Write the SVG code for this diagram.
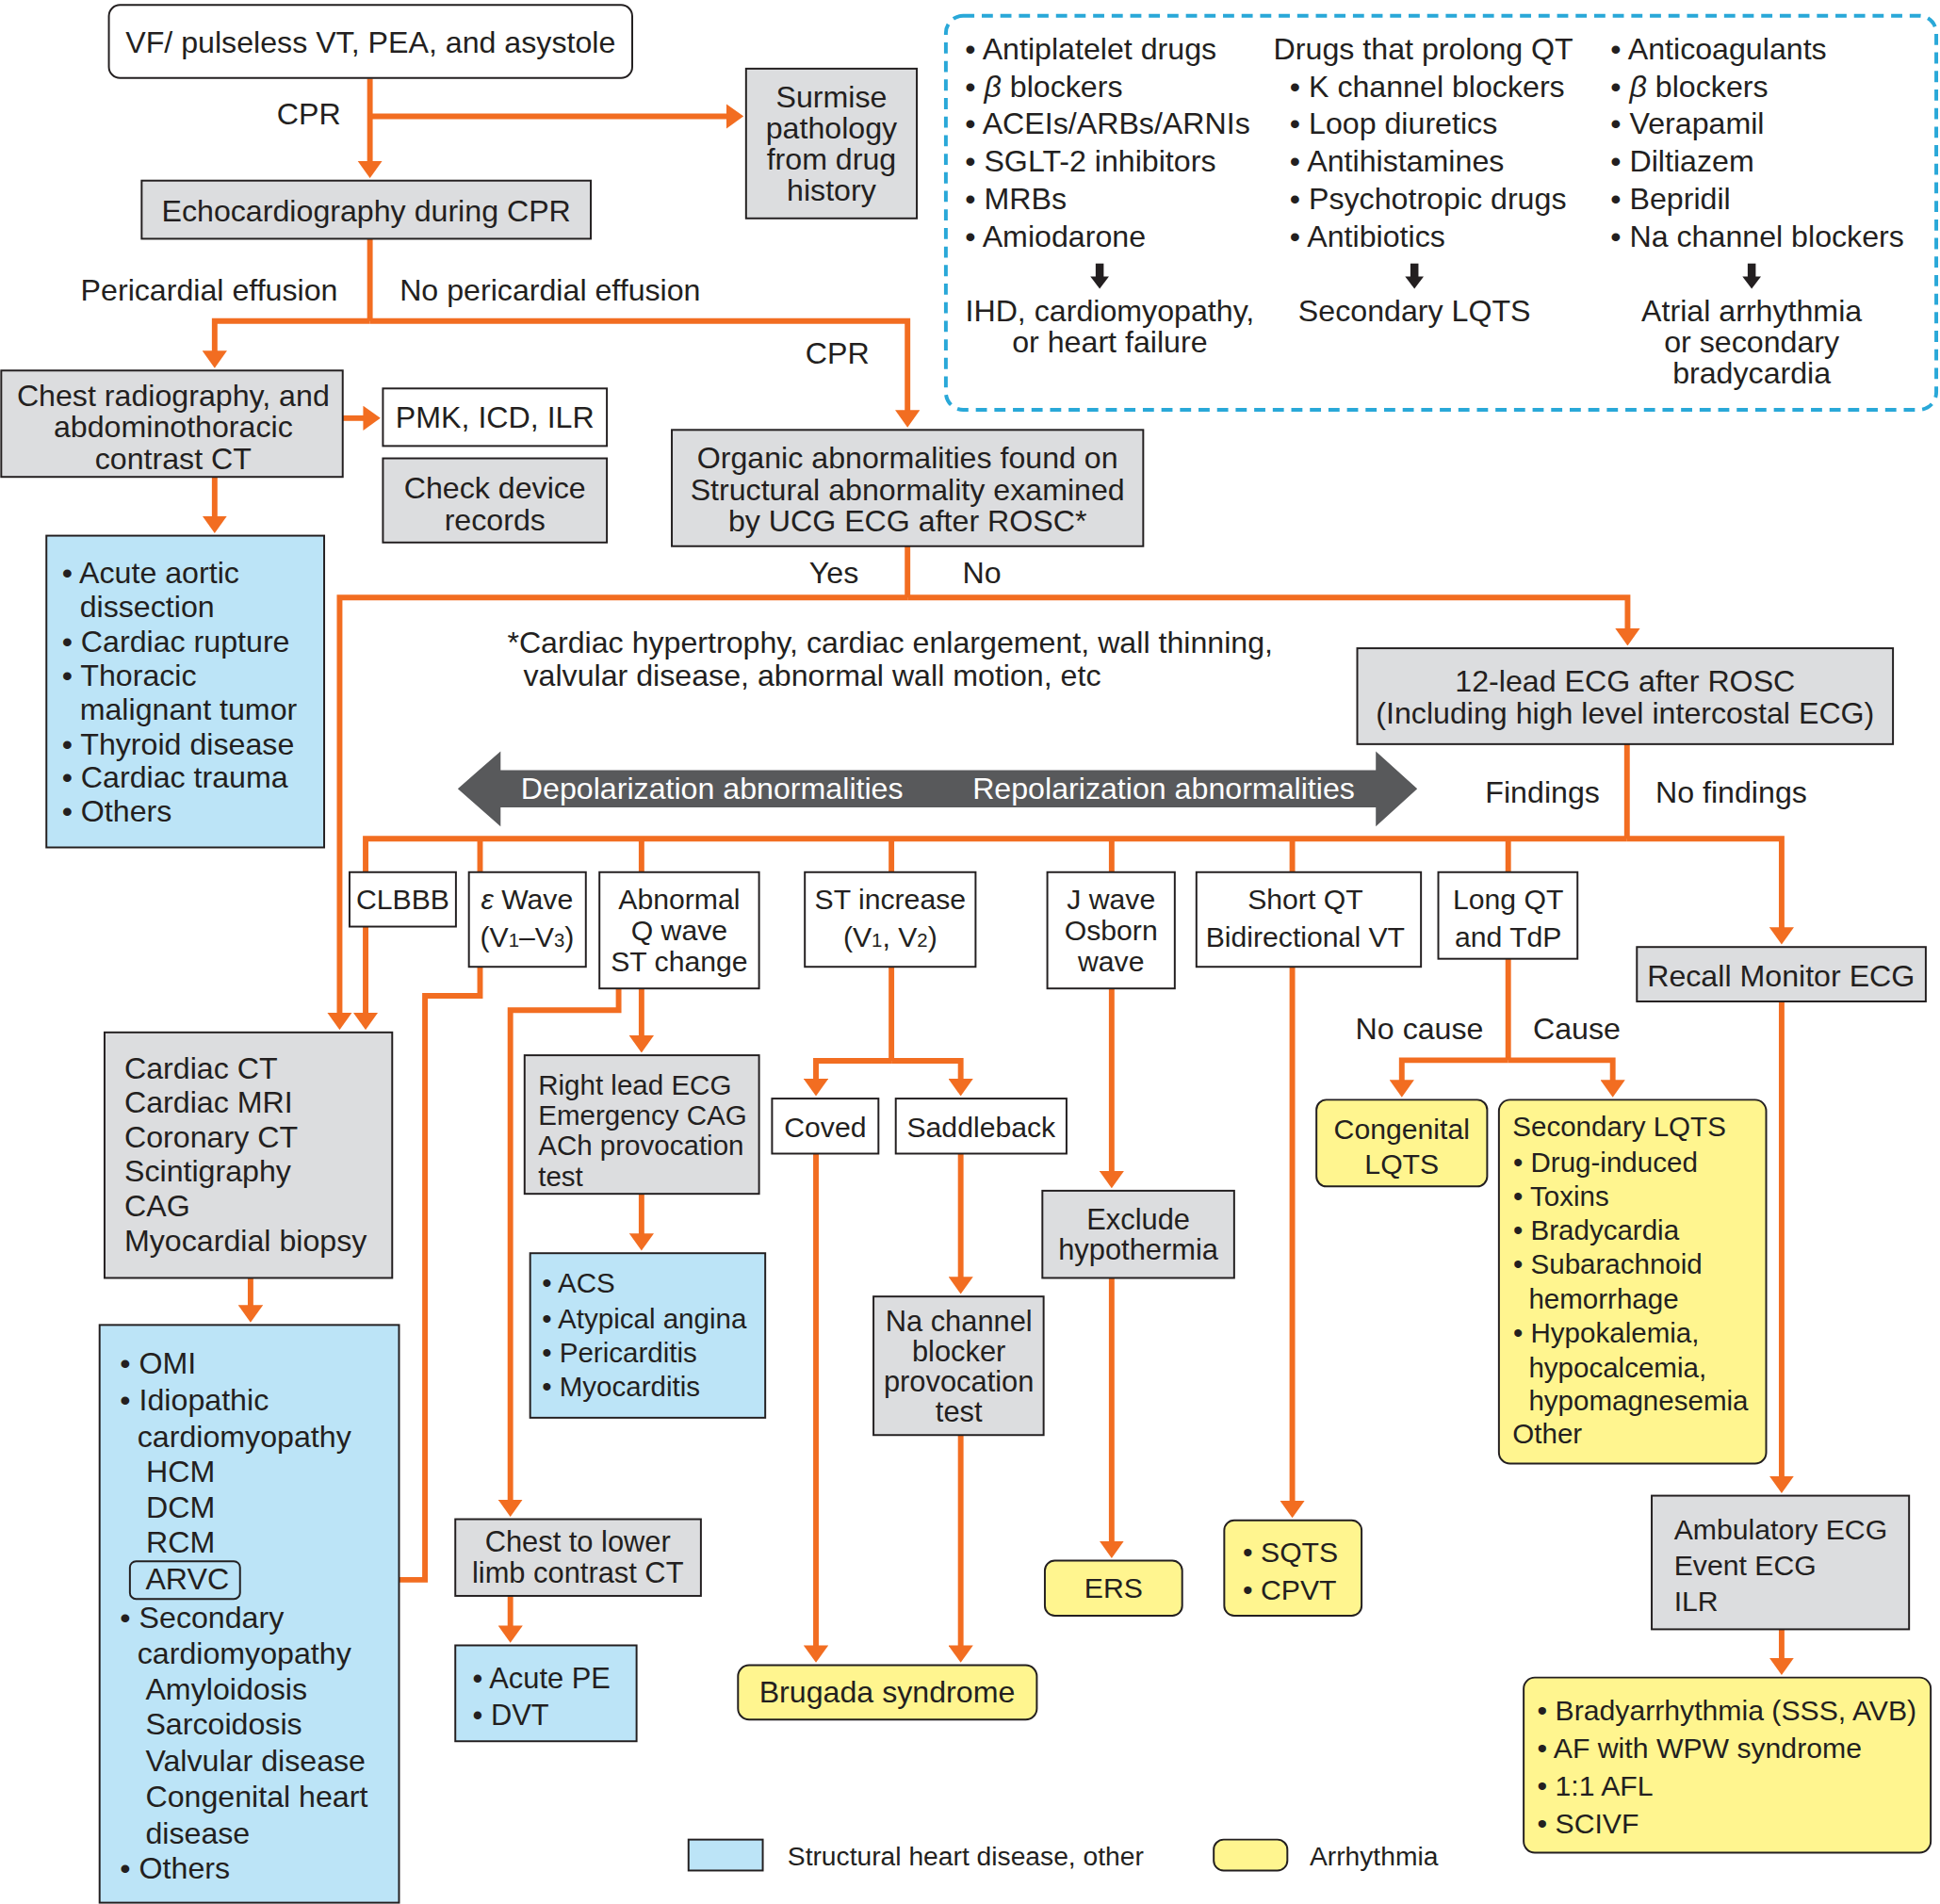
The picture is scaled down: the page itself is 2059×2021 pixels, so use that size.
<svg xmlns="http://www.w3.org/2000/svg" width="2059" height="2021" viewBox="0 0 2059 2021">
<style>
text{font-family:"Liberation Sans",Arial,Helvetica,sans-serif;font-size:24.5px;fill:#231f20}
.m{text-anchor:middle}
.wt{fill:#ffffff}
.f24{font-size:24.5px}
.f235{font-size:23.5px}
.f23{font-size:23px}
.f225{font-size:22.5px}
.f215{font-size:21.5px}
.sub{font-size:15.5px}
.it{font-style:italic}
.bx{stroke:#231f20;stroke-width:1.5}
.gy{fill:#dcdddf}
.bl{fill:#bce4f7}
.yl{fill:#fff58f}
.wh{fill:#ffffff}
.cn{fill:none;stroke:#f26d21;stroke-width:4.5;stroke-linejoin:miter;stroke-linecap:butt}
.ck{fill:none;stroke:#231f20;stroke-width:6.5}
</style>
<defs>
<marker id="ah" viewBox="0 0 14 20" markerWidth="14" markerHeight="20" refX="4" refY="10" orient="auto" markerUnits="userSpaceOnUse"><path d="M0,0 L14,10 L0,20 z" fill="#f26d21"/></marker>
<marker id="ak" viewBox="0 0 10 15" markerWidth="10" markerHeight="15" refX="1" refY="7.5" orient="auto" markerUnits="userSpaceOnUse"><path d="M0,0 L10,7.5 L0,15 z" fill="#231f20"/></marker>
</defs>
<rect x="0" y="0" width="2059" height="2021" fill="#ffffff"/>
<g transform="scale(1.31314)">

<g id="connectors">
<path class="cn" d="M299,63.5 V134" marker-end="url(#ah)"/>
<path class="cn" d="M299,94 H591" marker-end="url(#ah)"/>
<path class="cn" d="M299,193 V259.5"/>
<path class="cn" d="M299,259.5 H173.5 V287.5" marker-end="url(#ah)"/>
<path class="cn" d="M299,259.5 H733.5 V335.5" marker-end="url(#ah)"/>
<path class="cn" d="M277,338 H297.5" marker-end="url(#ah)"/>
<path class="cn" d="M173.5,385.5 V421" marker-end="url(#ah)"/>
<path class="cn" d="M733.5,441.5 V483"/>
<path class="cn" d="M733.5,483 H274.5 V822.5" marker-end="url(#ah)"/>
<path class="cn" d="M733.5,483 H1315.5 V512" marker-end="url(#ah)"/>
<path class="cn" d="M1315,601.5 V678"/>
<path class="cn" d="M1315,678 H295.5 V705"/>
<path class="cn" d="M388,678 V705"/>
<path class="cn" d="M518.5,678 V705"/>
<path class="cn" d="M720.5,678 V705"/>
<path class="cn" d="M898.5,678 V705"/>
<path class="cn" d="M1044.5,678 V705"/>
<path class="cn" d="M1219,678 V705"/>
<path class="cn" d="M1315,678 H1440 V753.5" marker-end="url(#ah)"/>
<path class="cn" d="M295.5,749 V822.5" marker-end="url(#ah)"/>
<path class="cn" d="M388,781.5 V805 H343.5 V1277 H206" marker-end="url(#ah)"/>
<path class="cn" d="M500,799 V816.5 H412.5 V1216" marker-end="url(#ah)"/>
<path class="cn" d="M518.5,799 V841" marker-end="url(#ah)"/>
<path class="cn" d="M518.5,965 V1001" marker-end="url(#ah)"/>
<path class="cn" d="M720.5,781.5 V857.5"/>
<path class="cn" d="M720.5,857.5 H659.5 V876" marker-end="url(#ah)"/>
<path class="cn" d="M720.5,857.5 H776.5 V876" marker-end="url(#ah)"/>
<path class="cn" d="M659.5,932.5 V1334" marker-end="url(#ah)"/>
<path class="cn" d="M776.5,932.5 V1036" marker-end="url(#ah)"/>
<path class="cn" d="M776.5,1160 V1334" marker-end="url(#ah)"/>
<path class="cn" d="M898.5,799 V950.5" marker-end="url(#ah)"/>
<path class="cn" d="M898.5,1033 V1249.5" marker-end="url(#ah)"/>
<path class="cn" d="M1044.5,781.5 V1217" marker-end="url(#ah)"/>
<path class="cn" d="M1219,775 V857"/>
<path class="cn" d="M1219,857 H1133 V877" marker-end="url(#ah)"/>
<path class="cn" d="M1219,857 H1303.5 V877" marker-end="url(#ah)"/>
<path class="cn" d="M1440,809.5 V1197" marker-end="url(#ah)"/>
<path class="cn" d="M1440,1317 V1344" marker-end="url(#ah)"/>
<path class="cn" d="M202.5,1033 V1059" marker-end="url(#ah)"/>
<path class="cn" d="M412.5,1289.5 V1318" marker-end="url(#ah)"/>
<path class="ck" d="M888.8,213 V224.5" marker-end="url(#ak)"/>
<path class="ck" d="M1143.2,213 V224.5" marker-end="url(#ak)"/>
<path class="ck" d="M1415.8,213 V224.5" marker-end="url(#ak)"/>
</g>

<g id="labels">
<text x="275.5" y="100.5" text-anchor="end">CPR</text>
<text x="273" y="243" text-anchor="end">Pericardial effusion</text>
<text x="323" y="243">No pericardial effusion</text>
<text x="651" y="294">CPR</text>
<text x="654" y="471.5">Yes</text>
<text x="778" y="471.5">No</text>
<text x="1293" y="648.5" text-anchor="end">Findings</text>
<text x="1338" y="648.5">No findings</text>
<text x="1199" y="840" text-anchor="end">No cause</text>
<text x="1239" y="840">Cause</text>
<text x="410" y="527.5">*Cardiac hypertrophy, cardiac enlargement, wall thinning,</text>
<text x="423" y="554.5">valvular disease, abnormal wall motion, etc</text>
</g>

<g id="n-bigarrow">
<polygon points="370,637.5 404.6,607.3 404.6,622.6 1112,622.6 1112,607.3 1145.5,637.5 1112,668 1112,652.7 404.6,652.7 404.6,668" fill="#58595b"/>
<text class="wt" x="421" y="646">Depolarization abnormalities</text>
<text class="wt" x="786" y="646">Repolarization abnormalities</text>
</g>

<g id="n-vf"><rect class="bx wh" x="88" y="4" width="423" height="59" rx="9"/><text class="m" x="299.5" y="43">VF/ pulseless VT, PEA, and asystole</text></g>
<g id="n-surmise"><rect class="bx gy" x="603" y="55.5" width="138" height="121"/>
<text class="m" x="672" y="87">Surmise</text><text class="m" x="672" y="112">pathology</text><text class="m" x="672" y="137">from drug</text><text class="m" x="672" y="162">history</text></g>
<g id="n-echo"><rect class="bx gy" x="114.5" y="146" width="363" height="47"/><text class="m" x="296" y="179">Echocardiography during CPR</text></g>
<g id="n-chest"><rect class="bx gy" x="1" y="299.5" width="276" height="86"/>
<text class="m" x="140" y="328">Chest radiography, and</text><text class="m" x="140" y="353.5">abdominothoracic</text><text class="m" x="140" y="379">contrast CT</text></g>
<g id="n-pmk"><rect class="bx wh" x="309.5" y="314" width="181" height="46.5"/><text class="m" x="400" y="346">PMK, ICD, ILR</text></g>
<g id="n-check"><rect class="bx gy" x="309.5" y="370.5" width="181" height="68"/><text class="m" x="400" y="403">Check device</text><text class="m" x="400" y="428.5">records</text></g>
<g id="n-organic"><rect class="bx gy" x="543" y="347.5" width="381" height="94"/>
<text class="m" x="733.5" y="378.5">Organic abnormalities found on</text><text class="m" x="733.5" y="404">Structural abnormality examined</text><text class="m" x="733.5" y="429.5">by UCG ECG after ROSC*</text></g>
<g id="n-blue1"><rect class="bx bl" x="37.5" y="433" width="224.5" height="252"/>
<text x="50" y="471.5">• Acute aortic</text><text x="64.5" y="498.5">dissection</text><text x="50" y="527">• Cardiac rupture</text><text x="50" y="554.5">• Thoracic</text><text x="64.5" y="582">malignant tumor</text><text x="50" y="610">• Thyroid disease</text><text x="50" y="636.5">• Cardiac trauma</text><text x="50" y="664">• Others</text></g>
<g id="n-12lead"><rect class="bx gy" x="1097" y="524" width="433" height="77.5"/>
<text class="m" x="1313.5" y="559">12-lead ECG after ROSC</text><text class="m" x="1313.5" y="585">(Including high level intercostal ECG)</text></g>

<g id="n-clbbb"><rect class="bx wh" x="282.5" y="705" width="86" height="44"/><text class="m f23" x="325.5" y="735">CLBBB</text></g>
<g id="n-eps"><rect class="bx wh" x="379" y="705" width="94.5" height="76.5"/>
<text class="m f23" x="426" y="735"><tspan class="it">ε</tspan> Wave</text>
<text class="m f23" x="426" y="765.5">(V<tspan class="sub">1</tspan>–V<tspan class="sub">3</tspan>)</text></g>
<g id="n-abq"><rect class="bx wh" x="484.5" y="705" width="129" height="94"/>
<text class="m f23" x="549" y="735">Abnormal</text><text class="m f23" x="549" y="760">Q wave</text><text class="m f23" x="549" y="785">ST change</text></g>
<g id="n-st"><rect class="bx wh" x="650.5" y="705" width="138" height="76.5"/>
<text class="m f23" x="719.5" y="735">ST increase</text><text class="m f23" x="719.5" y="765.5">(V<tspan class="sub">1</tspan>, V<tspan class="sub">2</tspan>)</text></g>
<g id="n-jwave"><rect class="bx wh" x="846.5" y="705" width="103" height="94"/>
<text class="m f23" x="898" y="735">J wave</text><text class="m f23" x="898" y="760">Osborn</text><text class="m f23" x="898" y="785">wave</text></g>
<g id="n-shortqt"><rect class="bx wh" x="967" y="705" width="181.5" height="76.5"/>
<text class="m f23" x="1055" y="735">Short QT</text><text class="m f23" x="1055" y="765.5">Bidirectional VT</text></g>
<g id="n-longqt"><rect class="bx wh" x="1162.5" y="705" width="112.5" height="70"/>
<text class="m f23" x="1219" y="735">Long QT</text><text class="m f23" x="1219" y="765.5">and TdP</text></g>
<g id="n-recall"><rect class="bx gy" x="1323" y="765.5" width="233.5" height="44"/><text class="m" x="1439.5" y="797">Recall Monitor ECG</text></g>

<g id="n-rightlead"><rect class="bx gy" x="424" y="853" width="189.5" height="112"/>
<text class="f225" x="435" y="885">Right lead ECG</text><text class="f225" x="435" y="909.5">Emergency CAG</text><text class="f225" x="435" y="934">ACh provocation</text><text class="f225" x="435" y="958.5">test</text></g>
<g id="n-acs"><rect class="bx bl" x="428.5" y="1013" width="190" height="133"/>
<text class="f225" x="438" y="1045">• ACS</text><text class="f225" x="438" y="1073.5">• Atypical angina</text><text class="f225" x="438" y="1101">• Pericarditis</text><text class="f225" x="438" y="1128.5">• Myocarditis</text></g>
<g id="n-coved"><rect class="bx wh" x="624" y="888" width="86" height="44.5"/><text class="m f23" x="667" y="919.5">Coved</text></g>
<g id="n-saddle"><rect class="bx wh" x="724" y="888" width="138" height="44.5"/><text class="m f23" x="793" y="919.5">Saddleback</text></g>
<g id="n-na"><rect class="bx gy" x="706" y="1048" width="137.5" height="112"/>
<text class="m f235" x="775" y="1076">Na channel</text><text class="m f235" x="775" y="1100.5">blocker</text><text class="m f235" x="775" y="1125">provocation</text><text class="m f235" x="775" y="1149.5">test</text></g>
<g id="n-exclude"><rect class="bx gy" x="842.5" y="962.5" width="155" height="70.5"/>
<text class="m f235" x="920" y="994">Exclude</text><text class="m f235" x="920" y="1018.5">hypothermia</text></g>
<g id="n-brugada"><rect class="bx yl" x="596.5" y="1346" width="241.5" height="44" rx="9"/><text class="m" x="717" y="1376">Brugada syndrome</text></g>
<g id="n-ers"><rect class="bx yl" x="844.5" y="1261.5" width="111" height="44.5" rx="8"/><text class="m f23" x="900" y="1291.5">ERS</text></g>
<g id="n-sqts"><rect class="bx yl" x="989.5" y="1229" width="111" height="77" rx="8"/>
<text class="f23" x="1004.5" y="1262.5">• SQTS</text><text class="f23" x="1004.5" y="1293">• CPVT</text></g>
<g id="n-congenital"><rect class="bx yl" x="1064" y="889" width="138" height="70" rx="8"/>
<text class="m f23" x="1133" y="921">Congenital</text><text class="m f23" x="1133" y="949">LQTS</text></g>
<g id="n-secondary"><rect class="bx yl" x="1211.5" y="889" width="216" height="294" rx="9"/>
<text class="f225" x="1222.5" y="918.5">Secondary LQTS</text>
<text class="f225" x="1223" y="947">• Drug-induced</text>
<text class="f225" x="1223" y="975">• Toxins</text>
<text class="f225" x="1223" y="1002">• Bradycardia</text>
<text class="f225" x="1223" y="1029.5">• Subarachnoid</text>
<text class="f225" x="1235.5" y="1057.5">hemorrhage</text>
<text class="f225" x="1223" y="1085.5">• Hypokalemia,</text>
<text class="f225" x="1235.5" y="1113">hypocalcemia,</text>
<text class="f225" x="1235.5" y="1140">hypomagnesemia</text>
<text class="f225" x="1222.5" y="1166.5">Other</text></g>
<g id="n-ambulatory"><rect class="bx gy" x="1335" y="1209" width="208" height="108"/>
<text class="f23" x="1353" y="1244.5">Ambulatory ECG</text><text class="f23" x="1353" y="1273">Event ECG</text><text class="f23" x="1353" y="1302.5">ILR</text></g>
<g id="n-arrhythmias"><rect class="bx yl" x="1231.5" y="1356" width="329" height="141.5" rx="9"/>
<text class="f23" x="1242.5" y="1390.5">• Bradyarrhythmia (SSS, AVB)</text>
<text class="f23" x="1242.5" y="1421">• AF with WPW syndrome</text>
<text class="f23" x="1242.5" y="1451.5">• 1:1 AFL</text>
<text class="f23" x="1242.5" y="1482">• SCIVF</text></g>
<g id="n-cardiacct"><rect class="bx gy" x="84.5" y="834.5" width="232.5" height="198.5"/>
<text x="100.5" y="872">Cardiac CT</text><text x="100.5" y="899.5">Cardiac MRI</text><text x="100.5" y="927.5">Coronary CT</text><text x="100.5" y="955">Scintigraphy</text><text x="100.5" y="983">CAG</text><text x="100.5" y="1011">Myocardial biopsy</text></g>
<g id="n-blue2"><rect class="bx bl" x="80.5" y="1071" width="242" height="467"/>
<text x="97" y="1110.5">• OMI</text>
<text x="97" y="1140">• Idiopathic</text>
<text x="111" y="1169.5">cardiomyopathy</text>
<text x="118" y="1198">HCM</text>
<text x="118" y="1227">DCM</text>
<text x="118" y="1255">RCM</text>
<rect x="105" y="1262" width="89" height="30.5" rx="5" fill="none" stroke="#231f20" stroke-width="1.5"/>
<text x="117.6" y="1284.5">ARVC</text>
<text x="97" y="1316">• Secondary</text>
<text x="111" y="1345">cardiomyopathy</text>
<text x="117.6" y="1374">Amyloidosis</text>
<text x="117.6" y="1402">Sarcoidosis</text>
<text x="117.6" y="1431.5">Valvular disease</text>
<text x="117.6" y="1460.5">Congenital heart</text>
<text x="117.6" y="1490">disease</text>
<text x="97" y="1518.5">• Others</text></g>
<g id="n-chestlower"><rect class="bx gy" x="368" y="1228" width="198.5" height="62"/>
<text class="m f235" x="467" y="1254.5">Chest to lower</text><text class="m f235" x="467" y="1279.5">limb contrast CT</text></g>
<g id="n-pe"><rect class="bx bl" x="368" y="1330" width="146.5" height="77.5"/>
<text class="f235" x="382" y="1365">• Acute PE</text><text class="f235" x="382" y="1394.5">• DVT</text></g>

<g id="legend">
<rect class="bx bl" x="556.5" y="1487" width="60" height="25"/>
<text class="f215" x="636.5" y="1507.5">Structural heart disease, other</text>
<rect class="bx yl" x="981" y="1487" width="59.5" height="25" rx="8"/>
<text class="f215" x="1058.5" y="1507.5">Arrhythmia</text>
</g>

<g id="n-drugs">
<rect x="764.5" y="12.7" width="800.5" height="318.5" rx="14" fill="none" stroke="#29a8d8" stroke-width="3" stroke-dasharray="9 6"/>
<text class="f24" x="780" y="48">• Antiplatelet drugs</text>
<text class="f24" x="780" y="78.3">• <tspan class="it">β</tspan> blockers</text>
<text class="f24" x="780" y="108.3">• ACEIs/ARBs/ARNIs</text>
<text class="f24" x="780" y="138.5">• SGLT-2 inhibitors</text>
<text class="f24" x="780" y="169">• MRBs</text>
<text class="f24" x="780" y="199.4">• Amiodarone</text>
<text class="f24 m" x="897" y="260">IHD, cardiomyopathy,</text>
<text class="f24 m" x="897" y="285">or heart failure</text>
<text class="f24" x="1029.3" y="48">Drugs that prolong QT</text>
<text class="f24" x="1042.4" y="78.3">• K channel blockers</text>
<text class="f24" x="1042.4" y="108.3">• Loop diuretics</text>
<text class="f24" x="1042.4" y="138.5">• Antihistamines</text>
<text class="f24" x="1042.4" y="169">• Psychotropic drugs</text>
<text class="f24" x="1042.4" y="199.4">• Antibiotics</text>
<text class="f24 m" x="1143.2" y="260">Secondary LQTS</text>
<text class="f24" x="1301.7" y="48">• Anticoagulants</text>
<text class="f24" x="1301.7" y="78.3">• <tspan class="it">β</tspan> blockers</text>
<text class="f24" x="1301.7" y="108.3">• Verapamil</text>
<text class="f24" x="1301.7" y="138.5">• Diltiazem</text>
<text class="f24" x="1301.7" y="169">• Bepridil</text>
<text class="f24" x="1301.7" y="199.4">• Na channel blockers</text>
<text class="f24 m" x="1415.8" y="260">Atrial arrhythmia</text>
<text class="f24 m" x="1415.8" y="285">or secondary</text>
<text class="f24 m" x="1415.8" y="310">bradycardia</text>
</g>

</g>
</svg>
